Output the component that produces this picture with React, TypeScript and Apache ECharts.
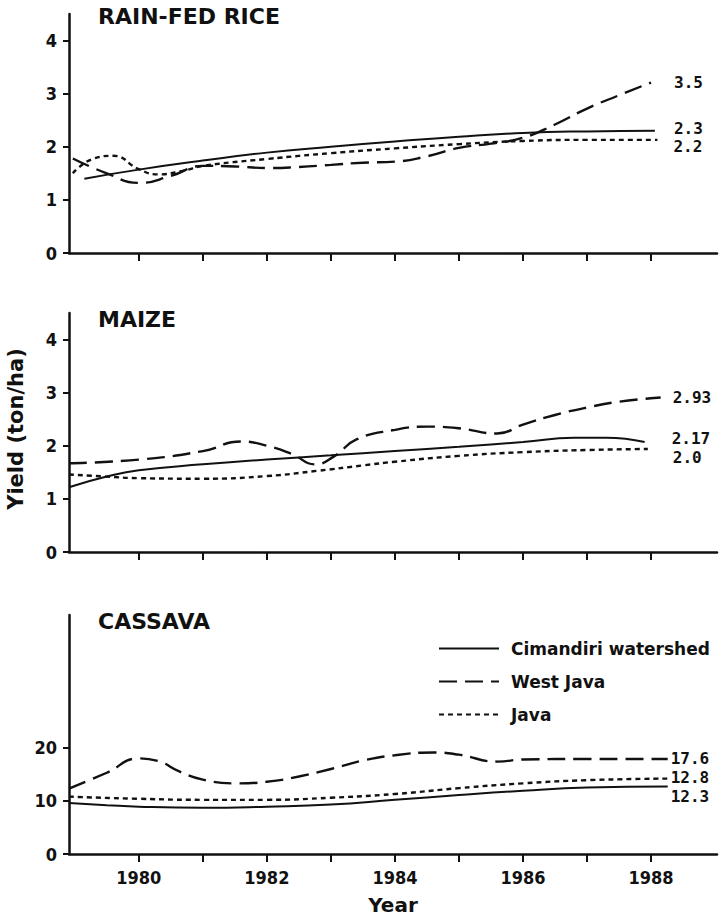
import React, { useEffect, useRef } from "react";
import * as echarts from "echarts";

// ---- data ----
const seriesNames = ["Cimandiri watershed", "West Java", "Java"];
const panelTitles = ["RAIN-FED RICE", "MAIZE", "CASSAVA"];
const endValueLabels = [
  ["2.3", "3.5", "2.2"],
  ["2.17", "2.93", "2.0"],
  ["12.3", "17.6", "12.8"],
];

const riceCimandiri = [
  [1979.15, 1.4], [1980, 1.57], [1981, 1.74], [1982, 1.89], [1983, 2.0],
  [1984, 2.1], [1985, 2.19], [1986, 2.26], [1987, 2.29], [1988.06, 2.3],
];
const riceWestJava = [
  [1978.97, 1.78], [1979.5, 1.5], [1980, 1.32], [1980.5, 1.45], [1981, 1.64],
  [1981.5, 1.63], [1982, 1.6], [1982.5, 1.62], [1983, 1.66], [1983.5, 1.7],
  [1984, 1.72], [1984.5, 1.82], [1985, 1.98], [1985.5, 2.06], [1986, 2.17],
  [1986.5, 2.42], [1987, 2.72], [1987.5, 2.97], [1988, 3.21],
];
const riceJava = [
  [1978.97, 1.5], [1979.3, 1.78], [1979.6, 1.83], [1980, 1.58], [1980.3, 1.48],
  [1980.7, 1.55], [1981, 1.64], [1982, 1.77], [1983, 1.88], [1984, 1.97],
  [1985, 2.05], [1986, 2.11], [1987, 2.13], [1988.1, 2.13],
];

const maizeCimandiri = [
  [1978.91, 1.22], [1979.5, 1.42], [1980, 1.54], [1981, 1.65], [1982, 1.74],
  [1983, 1.82], [1984, 1.9], [1985, 1.98], [1986, 2.07], [1986.8, 2.15],
  [1987.3, 2.15], [1987.9, 2.07],
];
const maizeWestJava = [
  [1978.91, 1.67], [1980, 1.74], [1981, 1.9], [1981.6, 2.08], [1982, 2.0],
  [1982.4, 1.84], [1982.75, 1.65], [1983.05, 1.8], [1983.4, 2.12], [1984, 2.3],
  [1984.5, 2.36], [1985, 2.33], [1985.6, 2.23], [1986, 2.4], [1986.5, 2.58],
  [1987, 2.72], [1987.5, 2.83], [1988.15, 2.91],
];
const maizeJava = [
  [1978.91, 1.46], [1979.5, 1.42], [1980, 1.39], [1981, 1.38], [1982, 1.43],
  [1982.8, 1.53], [1983.5, 1.63], [1984, 1.7], [1985, 1.81], [1986, 1.88],
  [1987, 1.92], [1987.95, 1.94],
];

const cassavaCimandiri = [
  [1978.91, 9.6], [1979.5, 9.2], [1980, 8.9], [1981, 8.7], [1982, 8.9],
  [1983, 9.3], [1984, 10.2], [1985, 11.1], [1986, 11.9], [1987, 12.5],
  [1988.26, 12.7],
];
const cassavaWestJava = [
  [1978.91, 12.3], [1979.5, 15.3], [1980, 18.0], [1980.3, 17.5], [1980.64, 15.5],
  [1981, 14.0], [1981.5, 13.3], [1982, 13.6], [1982.5, 14.6], [1983, 16.0],
  [1983.5, 17.6], [1984, 18.6], [1984.6, 19.1], [1985, 18.7], [1985.6, 17.4],
  [1986, 17.8], [1987, 17.9], [1988.26, 17.9],
];
const cassavaJava = [
  [1978.91, 10.8], [1980, 10.4], [1981, 10.2], [1982, 10.2], [1983, 10.6],
  [1984, 11.3], [1985, 12.4], [1986, 13.3], [1987, 13.9], [1988.26, 14.2],
];

const yTickValues = [
  [0, 1, 2, 3, 4],
  [0, 1, 2, 3, 4],
  [0, 10, 20],
];
const yMaxValues = [4.5, 4.5, 45];
const xTickYears = [1980, 1981, 1982, 1983, 1984, 1985, 1986, 1987, 1988];
const xLabelYears = [1980, 1982, 1984, 1986, 1988];
const xMin = 1978.91;
const xMax = 1989.03;

// ---- layout / style ----
const gridTops = [14, 313, 615];
const gridHeight = 239;
const titleCenters = [16, 319, 621];
const endLabelOffsets = [
  [[19, -2], [23, 0], [16, 7]],
  [[27, -4], [12, 0], [25, 9]],
  [[3, 10], [3, 0], [3, -1]],
];
const INK = "#111";
const lineStyles = [
  { type: "solid", width: 2, color: INK },
  { type: [18, 8], width: 2.4, color: INK },
  { type: [5, 4], width: 2.4, color: INK },
];
const tickFont = "'DejaVu Sans Condensed', 'Liberation Sans Narrow', 'DejaVu Sans'";

export default function App() {
  const ref = useRef<HTMLDivElement>(null);
  useEffect(() => {
    document.body.style.margin = "0";
    if (!ref.current) return;
    const chart = echarts.init(ref.current, null, { renderer: "svg" });
    const panelData = [
      [riceCimandiri, riceWestJava, riceJava],
      [maizeCimandiri, maizeWestJava, maizeJava],
      [cassavaCimandiri, cassavaWestJava, cassavaJava],
    ];
    const grids = gridTops.map((t) => ({ left: 69, right: 2, top: t, height: gridHeight }));
    const xAxes = gridTops.map((_, i) => ({
      type: "value",
      gridIndex: i,
      min: xMin,
      max: xMax,
      splitLine: { show: false },
      axisLine: { show: true, onZero: false, lineStyle: { color: INK, width: 2.5 } },
      axisTick: {
        show: true,
        customValues: xTickYears,
        length: 8,
        inside: false,
        lineStyle: { color: INK, width: 2 },
      },
      axisLabel: {
        show: i === 2,
        customValues: xLabelYears,
        formatter: (v: number) => String(Math.round(v)),
        margin: 14,
        color: INK,
        fontFamily: tickFont,
        fontWeight: "bold",
        fontSize: 18,
      },
      ...(i === 2
        ? {
            name: "Year",
            nameLocation: "middle",
            nameGap: 41,
            nameTextStyle: {
              color: INK,
              fontFamily: "DejaVu Sans",
              fontWeight: "bold",
              fontSize: 20,
            },
          }
        : {}),
    }));
    const yAxes = gridTops.map((_, i) => ({
      type: "value",
      gridIndex: i,
      min: 0,
      max: yMaxValues[i],
      splitLine: { show: false },
      axisLine: { show: true, lineStyle: { color: INK, width: 2.5 } },
      axisTick: {
        show: true,
        customValues: yTickValues[i],
        length: 6,
        lineStyle: { color: INK, width: 2 },
      },
      axisLabel: {
        customValues: yTickValues[i],
        margin: 12,
        color: INK,
        fontFamily: tickFont,
        fontWeight: "bold",
        fontSize: 18,
      },
    }));
    const series: any[] = [];
    panelData.forEach((panel, p) => {
      panel.forEach((data, s) => {
        series.push({
          type: "line",
          name: seriesNames[s],
          xAxisIndex: p,
          yAxisIndex: p,
          data,
          smooth: 0.5,
          symbol: "none",
          showSymbol: false,
          lineStyle: lineStyles[s],
          itemStyle: { color: INK },
          emphasis: { disabled: true },
          endLabel: {
            show: true,
            formatter: endValueLabels[p][s],
            distance: 0,
            offset: endLabelOffsets[p][s],
            color: INK,
            fontFamily: "'DejaVu Sans Mono'",
            fontWeight: "bold",
            fontSize: 16,
            lineHeight: 14,
          },
        });
      });
    });
    const graphics: any[] = panelTitles.map((t, i) => ({
      type: "text",
      x: 98,
      y: titleCenters[i],
      style: {
        text: t,
        fill: INK,
        font: "bold 22px 'DejaVu Sans'",
        align: "left",
        textAlign: "left",
        verticalAlign: "middle",
        textVerticalAlign: "middle",
      },
    }));
    graphics.push({
      type: "text",
      x: 16,
      y: 429,
      rotation: Math.PI / 2,
      style: {
        text: "Yield (ton/ha)",
        fill: INK,
        font: "bold 21px 'DejaVu Sans'",
        align: "center",
        textAlign: "center",
        verticalAlign: "middle",
        textVerticalAlign: "middle",
      },
    });
    chart.setOption({
      animation: false,
      backgroundColor: "#fff",
      grid: grids,
      xAxis: xAxes,
      yAxis: yAxes,
      legend: {
        data: seriesNames,
        orient: "vertical",
        left: 433,
        top: 635,
        itemWidth: 60,
        itemHeight: 14,
        itemGap: 16,
        selectedMode: false,
        itemStyle: { opacity: 0 },
        textStyle: {
          color: INK,
          fontFamily: "DejaVu Sans",
          fontWeight: "bold",
          fontSize: 17,
          padding: [0, 0, 0, 7],
        },
      },
      graphic: graphics,
      series,
    });
    return () => chart.dispose();
  }, []);
  return <div ref={ref} style={{ width: 719, height: 918 }} />;
}
